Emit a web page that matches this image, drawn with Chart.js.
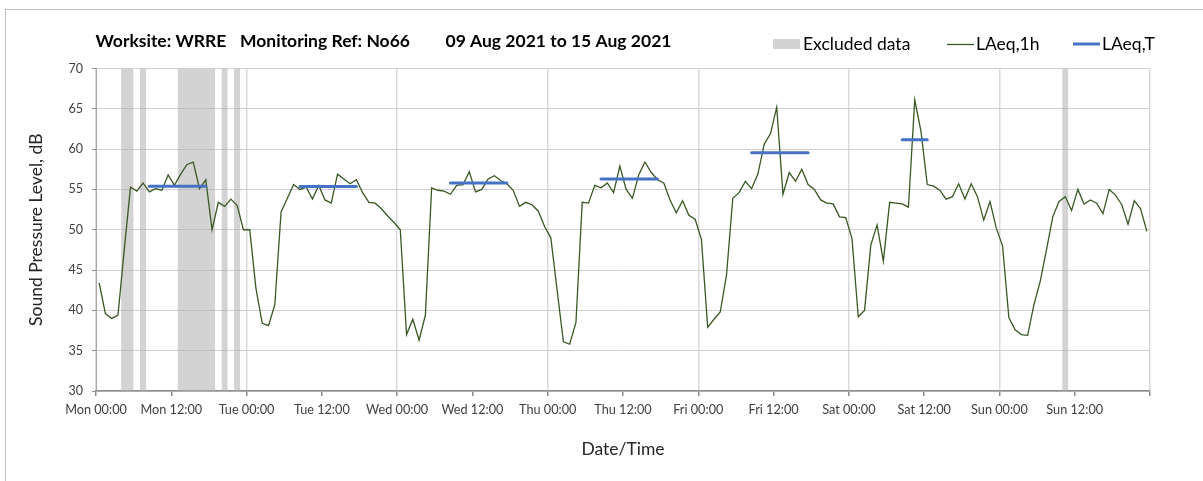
<!DOCTYPE html>
<html>
<head>
<meta charset="utf-8">
<script src="https://cdn.jsdelivr.net/npm/chart.js@4.4.1/dist/chart.umd.min.js"></script>
<style>
  html, body { margin: 0; padding: 0; background: #ffffff; }
  canvas { display: block; }
</style>
</head>
<body>
<canvas id="noiseChart" width="1203" height="481"></canvas>
<script>
// Hourly LAeq,1h values (dB), one per hour from Mon 00:00, plotted at mid-hour
const laeq1h = [
  43.4, 39.6, 39.0, 39.4, 47.5, 55.3, 54.8, 55.8, 54.7, 55.1,
  54.9, 56.8, 55.5, 56.9, 58.1, 58.4, 55.1, 56.2, 50.0, 53.4,
  52.9, 53.8, 53.0, 50.0, 50.0, 42.7, 38.4, 38.1, 40.7, 52.2,
  53.9, 55.6, 55.0, 55.3, 53.8, 55.5, 53.7, 53.3, 56.9, 56.3,
  55.7, 56.2, 54.6, 53.4, 53.3, 52.6, 51.7, 50.9, 50.0, 37.0,
  38.9, 36.3, 39.4, 55.2, 54.9, 54.8, 54.4, 55.5, 55.6, 57.2,
  54.7, 55.0, 56.3, 56.7, 56.1, 55.7, 54.9, 52.9, 53.4, 53.1,
  52.3, 50.4, 49.0, 42.5, 36.1, 35.8, 38.5, 53.4, 53.3, 55.5,
  55.2, 55.8, 54.6, 57.9, 55.0, 53.9, 56.8, 58.4, 57.1, 56.2,
  55.8, 53.7, 52.1, 53.6, 51.8, 51.3, 48.8, 37.9, 38.9, 39.8,
  44.4, 53.9, 54.6, 56.0, 55.1, 56.9, 60.6, 61.9, 65.2, 54.4,
  57.1, 56.0, 57.5, 55.6, 55.0, 53.7, 53.3, 53.2, 51.6, 51.5,
  48.9, 39.2, 40.0, 48.1, 50.6, 46.1, 53.4, 53.3, 53.2, 52.8,
  66.1, 62.2, 55.6, 55.4, 54.9, 53.8, 54.1, 55.7, 53.8, 55.7,
  54.1, 51.2, 53.5, 50.2, 48.0, 39.1, 37.6, 37.0, 36.9, 40.7,
  43.6, 47.5, 51.6, 53.5, 54.1, 52.4, 55.0, 53.2, 53.7, 53.3,
  52.0, 55.0, 54.3, 53.1, 50.7, 53.6, 52.6, 49.8
];

// LAeq,T over each assessment period (hours from Mon 00:00)
const periodStart = [8.5, 32.5, 56.5, 80.5, 104.5, 128.5];
const periodEnd   = [17.5, 41.5, 65.5, 89.5, 113.5, 132.5];
const laeqT       = [55.4, 55.35, 55.8, 56.3, 59.55, 61.15];

// Excluded periods (hours from Mon 00:00)
const excludedFrom = [4, 7, 13, 20, 22, 154];
const excludedTo   = [6, 8, 19, 21, 23, 155];

// X-axis tick labels every 12 hours
const tickLabels = [
  'Mon 00:00', 'Mon 12:00', 'Tue 00:00', 'Tue 12:00', 'Wed 00:00', 'Wed 12:00',
  'Thu 00:00', 'Thu 12:00', 'Fri 00:00', 'Fri 12:00', 'Sat 00:00', 'Sat 12:00',
  'Sun 00:00', 'Sun 12:00'
];

const titleParts = ['Worksite: WRRE', 'Monitoring Ref: No66', '09 Aug 2021 to 15 Aug 2021'];

const FONT = 'Lato, "Open Sans", sans-serif';
const GREEN = '#385723';
const BLUE = '#4472C4';
const BAND = 'rgba(175,175,175,0.55)';

const hourlyPoints = laeq1h.map((v, i) => ({ x: i + 0.5, y: v }));

const periodPoints = [];
periodStart.forEach((s, i) => {
  periodPoints.push({ x: s, y: laeqT[i] });
  periodPoints.push({ x: periodEnd[i], y: laeqT[i] });
  periodPoints.push({ x: periodEnd[i] + 0.01, y: null });
});

const bandPoints = [];
excludedFrom.forEach((s, i) => {
  bandPoints.push({ x: s, y: 70 });
  bandPoints.push({ x: excludedTo[i], y: 70 });
  bandPoints.push({ x: excludedTo[i] + 0.001, y: null });
});

// Frame, heading and legend row
const headerPlugin = {
  id: 'header',
  beforeDraw(chart) {
    const ctx = chart.ctx;
    ctx.save();
    ctx.fillStyle = '#ffffff';
    ctx.fillRect(0, 0, chart.width, chart.height);
    ctx.strokeStyle = '#bfbfbf';
    ctx.lineWidth = 1;
    ctx.strokeRect(5.5, 9.5, chart.width + 20, chart.height + 20);
    ctx.restore();
  },
  afterDraw(chart) {
    const ctx = chart.ctx;
    ctx.save();
    ctx.fillStyle = '#000000';
    ctx.textBaseline = 'alphabetic';
    ctx.textAlign = 'left';
    ctx.font = 'bold 17.5px ' + FONT;
    const titleX = [95.5, 240, 445.5];
    titleParts.forEach((t, i) => ctx.fillText(t, titleX[i], 47));

    // legend
    const ly = 44;
    ctx.fillStyle = '#d3d3d3';
    ctx.fillRect(773, 39, 27, 10);
    ctx.fillStyle = '#000000';
    ctx.font = '17.5px ' + FONT;
    ctx.fillText('Excluded data', 803, 50);

    ctx.strokeStyle = GREEN;
    ctx.lineWidth = 1.3;
    ctx.beginPath(); ctx.moveTo(947, ly + 0.5); ctx.lineTo(974, ly + 0.5); ctx.stroke();
    ctx.fillText('LAeq,1h', 976, 50);

    ctx.strokeStyle = BLUE;
    ctx.lineWidth = 3;
    ctx.beginPath(); ctx.moveTo(1073, ly); ctx.lineTo(1100, ly); ctx.stroke();
    ctx.fillText('LAeq,T', 1102, 50);
    ctx.restore();
  }
};

new Chart(document.getElementById('noiseChart'), {
  type: 'line',
  data: {
    datasets: [
      {
        label: 'LAeq,T',
        data: periodPoints,
        borderColor: BLUE,
        borderWidth: 3,
        borderCapStyle: 'round',
        pointRadius: 0,
        spanGaps: false,
        fill: false,
        order: 0
      },
      {
        label: 'LAeq,1h',
        data: hourlyPoints,
        borderColor: GREEN,
        borderWidth: 1.3,
        pointRadius: 0,
        tension: 0,
        fill: false,
        order: 1
      },
      {
        label: 'Excluded data',
        data: bandPoints,
        borderWidth: 0,
        borderColor: 'rgba(0,0,0,0)',
        backgroundColor: BAND,
        pointRadius: 0,
        spanGaps: false,
        fill: 'start',
        order: 2
      }
    ]
  },
  options: {
    responsive: false,
    animation: false,
    devicePixelRatio: 1,
    layout: { padding: { left: 0, top: 68.5, right: 53, bottom: 0 } },
    plugins: {
      legend: { display: false },
      title: { display: false },
      tooltip: { enabled: false }
    },
    scales: {
      x: {
        type: 'linear',
        min: 0,
        max: 168,
        afterFit(scale) { scale.height = 90; },
        afterBuildTicks(scale) {
          scale.ticks = [];
          for (let h = 0; h <= 168; h += 12) scale.ticks.push({ value: h });
        },
        ticks: {
          autoSkip: false,
          maxRotation: 0,
          minRotation: 0,
          padding: 6,
          color: '#404040',
          font: { family: FONT, size: 12.7 },
          callback: (v) => tickLabels[v / 12] || ''
        },
        grid: {
          color: (c) => (c.tick && c.tick.value % 24 === 0) ? '#d9d9d9' : 'rgba(0,0,0,0)',
          lineWidth: 1.5,
          tickLength: 5,
          tickColor: '#8c8c8c',
          drawTicks: true
        },
        border: { color: '#8c8c8c', width: 1.5 },
        title: {
          display: true,
          text: 'Date/Time',
          color: '#262626',
          font: { family: FONT, size: 17.5 },
          padding: { top: 0, bottom: 21 }
        }
      },
      y: {
        min: 30,
        max: 70,
        afterFit(scale) { scale.width = 96; },
        ticks: {
          stepSize: 5,
          padding: 9,
          color: '#404040',
          font: { family: FONT, size: 12.5 }
        },
        grid: {
          color: '#d0d0d0',
          lineWidth: 1,
          tickLength: 4,
          tickColor: '#8c8c8c',
          drawTicks: true
        },
        border: { color: '#a6a6a6', width: 1 },
        title: {
          display: true,
          text: 'Sound Pressure Level, dB',
          color: '#262626',
          font: { family: FONT, size: 17.5 },
          padding: { top: 26, bottom: 0 }
        }
      }
    }
  },
  plugins: [headerPlugin]
});
</script>
</body>
</html>
